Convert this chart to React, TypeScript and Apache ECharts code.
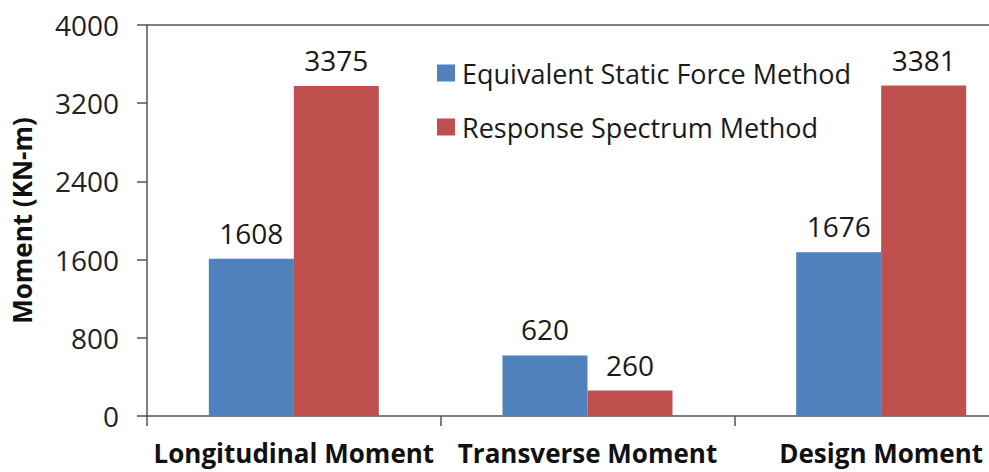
import React, { useEffect, useRef } from "react";
import * as echarts from "echarts";

const categories = ["Longitudinal Moment", "Transverse Moment", "Design Moment"];
const staticForce = [1608, 620, 1676];
const responseSpectrum = [3375, 260, 3381];
const seriesNames = ["Equivalent Static Force Method", "Response Spectrum Method"];
const yTicks = { min: 0, max: 4000, interval: 800 };

const FONT = "'Open Sans', Lato, sans-serif";
const AXIS_COLOR = "#555555";

export default function App() {
  const ref = useRef<HTMLDivElement>(null);
  useEffect(() => {
    if (!ref.current) return;
    const chart = echarts.init(ref.current, null, { renderer: "svg" });
    const labelStyle = {
      show: true,
      position: "top" as const,
      distance: 12,
      fontSize: 28,
      color: "#1a1a1a",
      fontFamily: FONT,
    };
    chart.setOption({
      animation: false,
      backgroundColor: "#ffffff",
      textStyle: { fontFamily: FONT },
      grid: { left: 147, top: 25, right: -39, bottom: 56, outerBoundsMode: "none", containLabel: false },
      legend: {
        orient: "vertical",
        left: 432,
        top: 53,
        itemWidth: 18,
        itemHeight: 17,
        itemGap: 24,
        icon: "rect",
        textStyle: { fontSize: 27, lineHeight: 30, color: "#1a1a1a", fontFamily: FONT, padding: [0, 0, 0, 2] },
        data: seriesNames,
      },
      xAxis: [
        {
          type: "category",
          data: categories,
          axisLine: { show: true, lineStyle: { color: AXIS_COLOR, width: 1.5 } },
          axisTick: { show: true, length: 10, alignWithLabel: false, lineStyle: { color: AXIS_COLOR, width: 1.5 } },
          axisLabel: { margin: 24, fontSize: 26, fontWeight: "bold", color: "#111111", fontFamily: FONT, interval: 0 },
        },
        {
          type: "category",
          position: "top",
          data: categories,
          axisLine: { show: true, lineStyle: { color: AXIS_COLOR, width: 1.5 } },
          axisTick: { show: false },
          axisLabel: { show: false },
        },
      ],
      yAxis: {
        type: "value",
        min: yTicks.min,
        max: yTicks.max,
        interval: yTicks.interval,
        name: "Moment (KN-m)",
        nameLocation: "middle",
        nameGap: 112,
        nameTextStyle: { fontSize: 26, fontWeight: "bold", color: "#111111", fontFamily: FONT },
        axisLine: { show: true, lineStyle: { color: AXIS_COLOR, width: 1.5 } },
        axisTick: { show: true, length: 10, lineStyle: { color: AXIS_COLOR, width: 1.5 } },
        axisLabel: {
          margin: 28,
          fontSize: 28,
          color: "#222222",
          fontFamily: FONT,
          formatter: (v: number) => String(v),
        },
        splitLine: { show: false },
      },
      series: [
        {
          name: seriesNames[0],
          type: "bar",
          data: staticForce,
          barWidth: 85,
          barGap: "0%",
          itemStyle: { color: "#4F81BD" },
          label: labelStyle,
        },
        {
          name: seriesNames[1],
          type: "bar",
          data: responseSpectrum,
          barWidth: 85,
          barGap: "0%",
          itemStyle: { color: "#C0504D" },
          label: labelStyle,
        },
      ],
    });
    return () => chart.dispose();
  }, []);
  return <div ref={ref} style={{ width: 989, height: 472, position: "absolute", left: 0, top: 0 }} />;
}
